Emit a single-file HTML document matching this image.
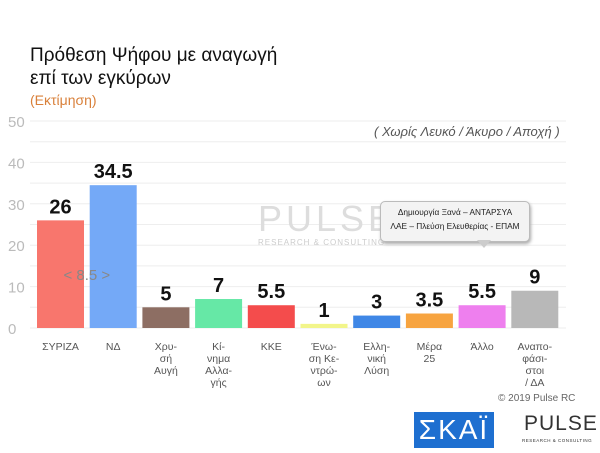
<!DOCTYPE html>
<html><head><meta charset="utf-8"><style>
body{margin:0;background:#fff;font-family:"Liberation Sans","DejaVu Sans",sans-serif;}
#wrap{position:relative;width:600px;height:453px;overflow:hidden;background:#fff}
.t{position:absolute;white-space:nowrap}
</style></head><body>
<div id="wrap">
<div class="t" style="left:30px;top:44px;font-size:19px;line-height:23px;color:#111">Πρόθεση Ψήφου με αναγωγή<br>επί των εγκύρων</div>
<div class="t" style="left:30px;top:92px;font-size:14px;color:#d9803a">(Εκτίμηση)</div>
<div class="t" style="left:374px;top:124px;font-size:13px;font-style:italic;color:#555">( Χωρίς Λευκό / Άκυρο / Αποχή )</div>
<svg id="chart" width="600" height="453" style="position:absolute;left:0;top:0"></svg>
<div class="t" style="left:498px;top:393px;font-size:10px;color:#666">© 2019 Pulse RC</div>
<div class="t" style="left:414px;top:412px;width:80px;height:36px;background:#1e6fd0;color:#fff;font-size:28px;line-height:36px;text-align:center;letter-spacing:2px">ΣΚΑΪ</div>
<div class="t" style="left:524px;top:412px;font-size:21px;color:#333;letter-spacing:1px">PULSE</div>
<div class="t" style="left:522px;top:438px;font-size:4.5px;color:#333;letter-spacing:0.5px">RESEARCH &amp; CONSULTING</div>
<div class="t" style="left:258px;top:198px;font-size:36px;color:#ddd;letter-spacing:4px">PULSE</div>
<div class="t" style="left:258px;top:238px;font-size:8px;color:#ccc;letter-spacing:1px">RESEARCH &amp; CONSULTING</div>
<div class="t" style="left:380px;top:201px;width:148px;height:36px;background:#f3f3f3;border:1px solid #bbb;border-radius:5px;box-shadow:1px 2px 3px #aaa;font-size:8.3px;line-height:14px;text-align:center;padding-top:3px;color:#222">Δημιουργία Ξανά – ΑΝΤΑΡΣΥΑ<br>ΛΑΕ – Πλεύση Ελευθερίας - ΕΠΑΜ</div>
<div class="t" style="left:477px;top:240px;width:0;height:0;border-left:7px solid transparent;border-right:7px solid transparent;border-top:8px solid #ccc"></div>
</div>
<script>
const categories=["ΣΥΡΙΖΑ","ΝΔ","Χρυσή Αυγή","Κίνημα Αλλαγής","ΚΚΕ","Ένωση Κεντρώων","Ελληνική Λύση","Μέρα 25","Άλλο","Αναποφάσιστοι / ΔΑ"];
const labelLines=[["ΣΥΡΙΖΑ"],["ΝΔ"],["Χρυ-","σή","Αυγή"],["Κί-","νημα","Αλλα-","γής"],["ΚΚΕ"],["Ένω-","ση Κε-","ντρώ-","ων"],["Ελλη-","νική","Λύση"],["Μέρα","25"],["Άλλο"],["Αναπο-","φάσι-","στοι","/ ΔΑ"]];
const values=[26,34.5,5,7,5.5,1,3,3.5,5.5,9];
const printed=["26","34.5","5","7","5.5","1","3","3.5","5.5","9"];
const colors=["#f8766d","#74a9f7","#8d6e63","#66e8a6","#f44c4c","#f2f58a","#3f87e6","#f7a440","#ee7fee","#b8b8b8"];
const ticks=[0,10,20,30,40,50];
const svg=document.getElementById('chart');const NS="http://www.w3.org/2000/svg";
const x0=37,step=52.7,bw=47;
function y(v){return 328-v*4.14;}
function xs(i){return x0+i*step;}
function mk(t,a,p){const e=document.createElementNS(NS,t);for(const k in a)e.setAttribute(k,a[k]);(p||svg).appendChild(e);return e;}
for(let v=0;v<=50;v+=5){const l=mk('line',{x1:30,x2:566,y1:y(v),y2:y(v),stroke:'#eee','stroke-width':1});

}
ticks.forEach(v=>{const t=mk('text',{x:8,y:y(v)+6,'font-size':15,fill:'#bbb'});t.textContent=v;

});
values.forEach((v,i)=>{const r=mk('rect',{x:xs(i),y:y(v),width:bw,height:v*4.14,fill:colors[i]});


const t=mk('text',{x:xs(i)+bw/2,y:y(v)-7,'text-anchor':'middle','font-size':20,'font-weight':'bold',fill:'#111'});t.textContent=printed[i];


const g=mk('text',{x:xs(i)+bw/2,y:350,'text-anchor':'middle','font-size':10.5,fill:'#555'});


labelLines[i].forEach((s,j)=>{const ts=mk('tspan',{x:xs(i)+bw/2,dy:j?12:0},g);ts.textContent=s;});});
const d=mk('text',{x:(xs(0)+xs(1)+bw)/2,y:280,'text-anchor':'middle','font-size':15,fill:'#888'});d.textContent="< 8.5 >";


</script>
</body></html>
